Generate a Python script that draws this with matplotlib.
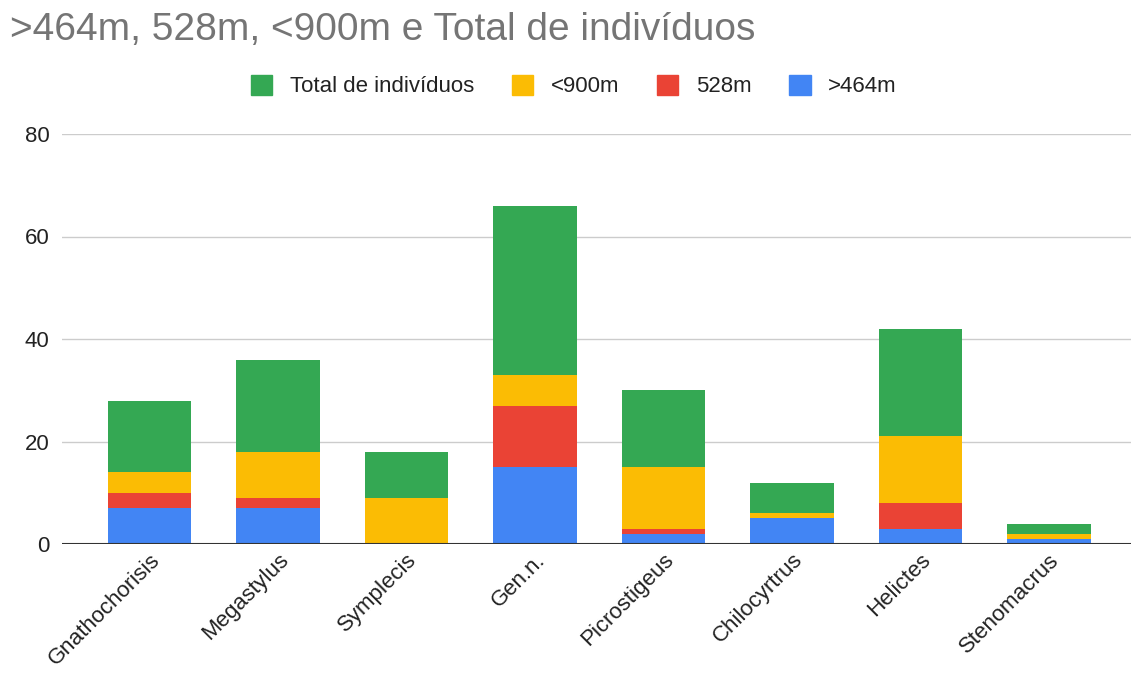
import matplotlib
matplotlib.use("Agg")
import matplotlib.pyplot as plt
from matplotlib.patches import Patch

categories = ["Gnathochorisis", "Megastylus", "Symplecis", "Gen.n.",
              "Picrostigeus", "Chilocyrtrus", "Helictes", "Stenomacrus"]
s464 = [7, 7, 0, 15, 2, 5, 3, 1]
s528 = [3, 2, 0, 12, 1, 0, 5, 0]
s900 = [4, 9, 9, 6, 12, 1, 13, 1]
total = [14, 18, 9, 33, 15, 6, 21, 2]
yticks = [0, 20, 40, 60, 80]

colors = {"blue": "#4285F4", "red": "#EA4335", "yellow": "#FBBC04", "green": "#34A853"}

plt.rcParams['font.family'] = ['Liberation Sans', 'DejaVu Sans']
fig = plt.figure(figsize=(11.31, 6.79), dpi=100)
ax = fig.add_axes([62/1131, (679-544)/679, (1131-62)/1131, (544-134)/679])

x = list(range(len(categories)))
w = 0.65
b1 = s464
b2 = [a + b for a, b in zip(b1, s528)]
b3 = [a + b for a, b in zip(b2, s900)]
ax.bar(x, s464, w, color=colors["blue"], zorder=3)
ax.bar(x, s528, w, bottom=b1, color=colors["red"], zorder=3)
ax.bar(x, s900, w, bottom=b2, color=colors["yellow"], zorder=3)
ax.bar(x, total, w, bottom=b3, color=colors["green"], zorder=3)

ax.set_xlim(-0.68, 7.64)
ax.set_ylim(0, 80)
ax.set_yticks(yticks)
ax.set_yticklabels([str(v) for v in yticks], fontsize=16, color="#222222")
ax.yaxis.grid(True, color="#cccccc", linewidth=1, zorder=0)
ax.axhline(0, color="#333333", linewidth=1.5, zorder=4)
for s in ax.spines.values():
    s.set_visible(False)
ax.tick_params(axis="y", length=0, pad=9)
ax.tick_params(axis="x", length=0, pad=4)
ax.set_xticks(x)
ax.set_xticklabels(categories, rotation=45, ha="right", va="top", rotation_mode="anchor",
                   fontsize=16, color="#222222")
for lab in ax.get_xticklabels():
    lab.set_x(lab.get_position()[0])

fig.text(10/1131, 1 - 30/679, ">464m, 528m, <900m e Total de indivíduos",
         fontsize=28, color="#757575", ha="left", va="center")

handles = [Patch(color=colors["green"], label="Total de indivíduos"),
           Patch(color=colors["yellow"], label="<900m"),
           Patch(color=colors["red"], label="528m"),
           Patch(color=colors["blue"], label=">464m")]
leg = fig.legend(handles=handles, loc="center", bbox_to_anchor=(574/1131, 1 - 86/679),
                 ncol=4, frameon=False, fontsize=16, handlelength=0.95, handleheight=1.0,
                 handletextpad=0.8, columnspacing=1.7)
for t in leg.get_texts():
    t.set_color("#222222")

fig.savefig("out.png", dpi=100)
